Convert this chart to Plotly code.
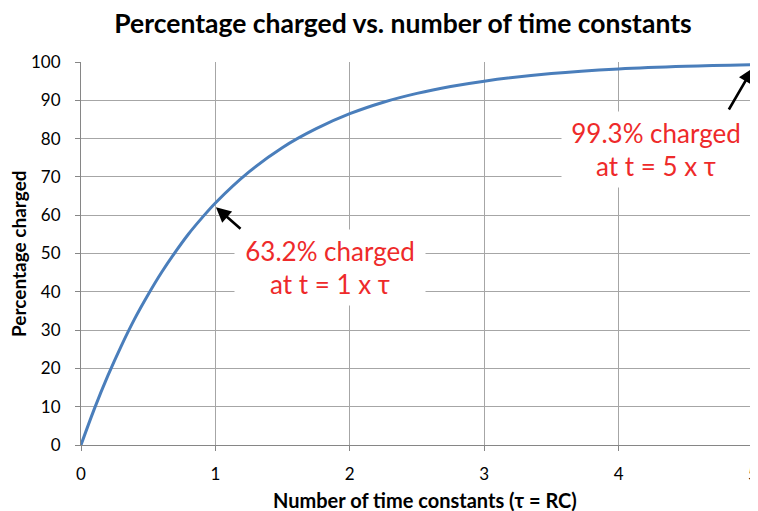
import plotly.graph_objects as go

# Data
time_constants = [0, 0.1, 0.2, 0.3, 0.4, 0.5, 0.6, 0.7, 0.8, 0.9, 1.0, 1.25, 1.5, 1.75,
                  2.0, 2.25, 2.5, 2.75, 3.0, 3.5, 4.0, 4.5, 5.0]
percent_charged = [0, 9.5, 18.1, 25.9, 33.0, 39.3, 45.1, 50.3, 55.1, 59.3, 63.2, 71.3,
                   77.7, 82.6, 86.5, 89.5, 91.8, 93.6, 95.0, 97.0, 98.2, 98.9, 99.3]

x_ticks = [0, 1, 2, 3, 4, 5]
y_ticks = [0, 10, 20, 30, 40, 50, 60, 70, 80, 90, 100]

FONT = "Lato"
RED = "#ee2a2a"

fig = go.Figure()
fig.add_trace(go.Scatter(
    x=time_constants, y=percent_charged, mode="lines",
    line=dict(color="#4a7ebb", width=3, shape="spline"),
    hoverinfo="skip", showlegend=False,
))

# Annotation text boxes
fig.add_annotation(x=1.853, y=46.3, xref="x", yref="y",
                   text="63.2% charged<br>at t = 1 x τ", showarrow=False,
                   font=dict(family=FONT, size=26, color=RED),
                   width=184, height=69, bgcolor="white", borderpad=3, align="center")
fig.add_annotation(x=4.28, y=77.2, xref="x", yref="y",
                   text="99.3% charged<br>at t = 5 x τ", showarrow=False,
                   font=dict(family=FONT, size=26, color=RED),
                   width=182, height=69, bgcolor="white", borderpad=3, align="center")
# Arrows
fig.add_annotation(x=1.004, y=62.1, xref="x", yref="y",
                   ax=1.198, ay=56.1, axref="x", ayref="y",
                   text="", showarrow=True, arrowhead=2, arrowsize=1.15,
                   arrowwidth=2.6, arrowcolor="black")
fig.add_annotation(x=5.0, y=98.4, xref="x", yref="y",
                   ax=4.814, ay=87.2, axref="x", ayref="y",
                   text="", showarrow=True, arrowhead=2, arrowsize=1.15,
                   arrowwidth=2.6, arrowcolor="black")

# Axis titles
fig.add_annotation(x=0.5126, y=-0.1436, xref="paper", yref="paper",
                   text="<b>Number of time constants (τ = RC)</b>", showarrow=False,
                   xanchor="center", yanchor="middle",
                   font=dict(family=FONT, size=20, color="black"))
fig.add_annotation(x=-0.093, y=0.5, xref="paper", yref="paper",
                   text="<b>Percentage charged</b>", showarrow=False, textangle=-90,
                   xanchor="center", yanchor="middle",
                   font=dict(family=FONT, size=19, color="black"))

fig.update_layout(
    width=758, height=503,
    margin=dict(l=73, r=13, t=54, b=66, autoexpand=False),
    paper_bgcolor="white", plot_bgcolor="white",
    title=dict(text="<b>Percentage charged vs. number of time constants</b>",
               x=395 / 758, xanchor="center", y=1 - 15.5 / 503, yanchor="middle",
               font=dict(family=FONT, size=26.5, color="black")),
    font=dict(family=FONT, color="black"),
)
fig.update_xaxes(
    range=[0, 5], tickvals=x_ticks, showgrid=True, gridcolor="#a6a6a6", gridwidth=1,
    showline=True, linecolor="#868686", linewidth=1, zeroline=False,
    ticks="outside", ticklen=5, tickcolor="#868686", automargin=False,
    ticklabelstandoff=9,
    tickfont=dict(family=FONT, size=17, color="black"),
)
fig.update_yaxes(
    range=[0, 100], tickvals=y_ticks, showgrid=True, gridcolor="#a6a6a6", gridwidth=1,
    showline=True, linecolor="#868686", linewidth=1, zeroline=False,
    ticks="outside", ticklen=5, tickcolor="#868686", automargin=False,
    ticklabelstandoff=11,
    tickfont=dict(family=FONT, size=17, color="black"),
)

fig.write_html("out.html")
